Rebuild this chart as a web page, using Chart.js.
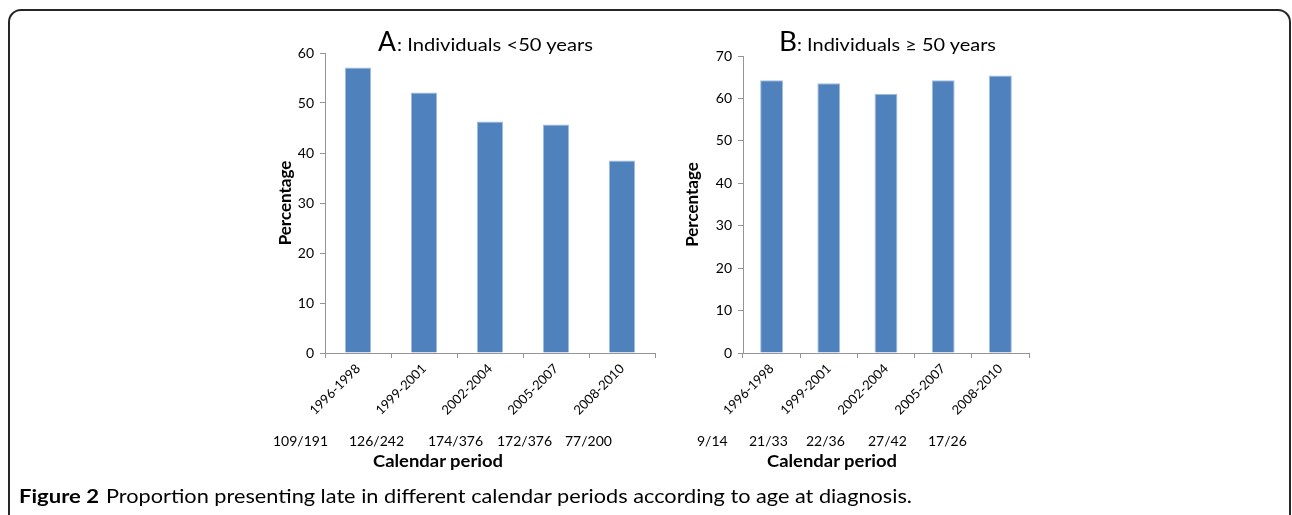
<!DOCTYPE html>
<html><head><meta charset="utf-8">
<script src="https://cdn.jsdelivr.net/npm/chart.js@4.4.0/dist/chart.umd.min.js"></script>
<style>
html,body{margin:0;padding:0;background:#fff;width:1292px;height:515px;overflow:hidden;position:relative;}
canvas{position:absolute;top:0}
svg{position:absolute;left:0;top:0}
</style></head><body>
<canvas id="cA" width="420" height="430" style="left:250px"></canvas>
<canvas id="cB" width="380" height="430" style="left:670px"></canvas>
<svg id="ov" width="1292" height="515" xmlns="http://www.w3.org/2000/svg"></svg>
<script>
// ---- data ----
const categories = ['1996-1998','1999-2001','2002-2004','2005-2007','2008-2010'];
const valuesUnder50 = [57.1, 52.1, 46.3, 45.7, 38.5];
const valuesOver50 = [64.3, 63.6, 61.1, 64.3, 65.4];
const countsUnder50 = ['109/191','126/242','174/376','172/376','77/200'];
const countsOver50 = ['9/14','21/33','22/36','27/42','17/26'];
const yTicksA = [0,10,20,30,40,50,60];
const yTicksB = [0,10,20,30,40,50,60,70];
const titleA = ['A', ': Individuals <50 years'];
const titleB = ['B', ': Individuals \u2265 50 years'];
const xTitle = 'Calendar period';
const yTitle = 'Percentage';
const caption = ['Figure 2', 'Proportion presenting late in different calendar periods according to age at diagnosis.'];

// ---- layout (pixels) ----
const layoutA = {yw:75, right:15, top:53, xh:77, tp:25.8};
const layoutB = {yw:73, right:21, top:56, xh:77, tp:12.8};
const countXA = [273, 349, 428, 497, 565];
const countXB = [697, 749, 806, 868, 928];

const AXIS = '#959595';
function makeChart(id, values, ticks, L) {
  new Chart(document.getElementById(id), {
    type: 'bar',
    data: {labels: categories, datasets: [{data: values, backgroundColor: '#4f81bd',
      borderColor: '#a3bde0', borderWidth: 1, barPercentage: 0.4, categoryPercentage: 1}]},
    options: {
      responsive: false, animation: false, events: [],
      layout: {padding: {top: L.top, right: L.right, left: 0, bottom: 0}},
      plugins: {legend: {display: false}, tooltip: {enabled: false}},
      scales: {
        x: {
          grid: {drawOnChartArea: false, drawTicks: true, tickLength: 5, color: AXIS, offset: true},
          border: {display: true, color: AXIS, width: 1},
          ticks: {minRotation: 45, maxRotation: 45, autoSkip: false, padding: 3, color: '#000',
            font: {family: 'Lato', size: 13}},
          afterFit: s => { s.height = L.xh; }
        },
        y: {
          min: ticks[0], max: ticks[ticks.length-1],
          afterBuildTicks: s => { s.ticks = ticks.map(v => ({value: v})); },
          ticks: {padding: 6, color: '#000', font: {family: 'Lato', size: 14}},
          grid: {drawOnChartArea: false, tickLength: 5, color: AXIS},
          border: {color: AXIS, width: 1},
          title: {display: true, text: yTitle, color: '#000',
            font: {family: 'Lato', size: 17, weight: 'bold'}, padding: {top: L.tp, bottom: 0}},
          afterFit: s => { s.width = L.yw; }
        }
      }
    }
  });
}

const NS = 'http://www.w3.org/2000/svg';
const ov = document.getElementById('ov');
function txt(str, x, y, size, weight, len) {
  const t = document.createElementNS(NS, 'text');
  t.setAttribute('x', x); t.setAttribute('y', y);
  t.setAttribute('font-family', 'Lato'); t.setAttribute('font-size', size);
  t.setAttribute('font-weight', weight || 'normal'); t.setAttribute('fill', '#000');
  if (len) { t.setAttribute('textLength', len); t.setAttribute('lengthAdjust', 'spacingAndGlyphs'); }
  t.textContent = str; ov.appendChild(t); return t;
}
function drawOverlay() {
  const r = document.createElementNS(NS, 'rect');
  r.setAttribute('x', 9); r.setAttribute('y', 10); r.setAttribute('width', 1281); r.setAttribute('height', 640);
  r.setAttribute('rx', 12); r.setAttribute('fill', 'none'); r.setAttribute('stroke', '#262626'); r.setAttribute('stroke-width', 2);
  ov.appendChild(r);
  txt(titleA[0], 378, 51, 26, 'normal', 18);
  txt(titleA[1], 397, 51, 18, 'normal', 196);
  txt(titleB[0], 779, 51, 26, 'normal', 18);
  txt(titleB[1], 797, 51, 18, 'normal', 199);
  countsUnder50.forEach((c, i) => txt(c, countXA[i], 446, 14));
  countsOver50.forEach((c, i) => txt(c, countXB[i], 446, 14));
  txt(xTitle, 373, 467, 17, 'bold', 130);
  txt(xTitle, 767, 467, 17, 'bold', 130);
  txt(caption[0], 19, 503, 19, 'bold', 80);
  txt(caption[1], 106, 503, 19, 'normal', 806);
}

Promise.all([document.fonts.load('14px Lato'), document.fonts.load('bold 16px Lato')]).catch(()=>{}).then(() => {
  makeChart('cA', valuesUnder50, yTicksA, layoutA);
  makeChart('cB', valuesOver50, yTicksB, layoutB);
  drawOverlay();
});
</script>
</body></html>
